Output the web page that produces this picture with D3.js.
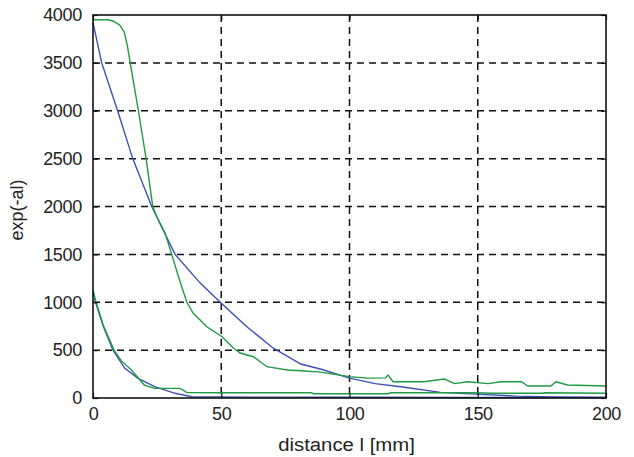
<!DOCTYPE html>
<html>
<head>
<meta charset="utf-8">
<script src="https://cdn.jsdelivr.net/npm/d3@7"></script>
<style>
  body { margin: 0; background: #fff; }
  text { font-family: "Liberation Sans", Arial, sans-serif; fill: #222; }
</style>
</head>
<body>
<div id="chart"></div>
<script>
// values
var upperBlueX = [0, 3.4, 9.6, 15.5, 22.9, 32, 41.8, 49.6, 60, 70.3, 81, 89, 100, 110, 120, 135.5, 151, 165, 180, 200];
var upperBlueY = [3920, 3500, 3000, 2500, 2000, 1500, 1200, 1000, 744, 520, 355, 300, 207, 150, 118, 59, 38, 20, 10, 5];

var upperGreenX = [0, 5.9, 8, 10.5, 12.2, 13.4, 14.5, 17.7, 20.7, 23.3, 24.9, 28.1, 30.7, 33.5, 36.6, 39, 44.4, 50.3, 54.7, 57.4, 62.5, 67.8, 75.7, 81, 88.7, 100, 107, 114, 115, 117, 129, 137, 141, 146, 154, 159, 167, 169.5, 178.5, 180.5, 185, 200];
var upperGreenY = [3950, 3950, 3935, 3894, 3820, 3680, 3500, 3000, 2500, 2000, 1890, 1720, 1500, 1250, 1000, 887, 744, 640, 522, 470, 431, 327, 292, 285, 270, 223, 208, 210, 240, 170, 170, 198, 150, 170, 150, 170, 170, 125, 125, 170, 136, 125];

var lowerBlueX = [0, 1, 4, 7.8, 12.4, 17.6, 24, 32, 38.5, 50, 100, 150, 200];
var lowerBlueY = [1100, 1000, 750, 500, 310, 205, 118, 49, 13, 10, 8, 6, 5];

var lowerGreenX = [0, 1, 4, 8.2, 11, 15, 20, 24, 34, 36.6, 50, 85, 86, 115, 116, 150, 155, 175, 176, 200];
var lowerGreenY = [1130, 1020, 760, 500, 390, 292, 135, 101, 101, 56, 55, 55, 45, 45, 55, 55, 50, 50, 55, 50];

var xTicks = [0, 50, 100, 150, 200];
var yTicks = [0, 500, 1000, 1500, 2000, 2500, 3000, 3500, 4000];

var blue = "#3d51b3",
    green = "#1f9a45";

var W = 634, H = 457;
var margin = { top: 15, right: 28, bottom: 59, left: 93 };
var width = W - margin.left - margin.right,
    height = H - margin.top - margin.bottom;

var svg = d3.select("#chart").append("svg")
    .attr("width", W)
    .attr("height", H);

var g = svg.append("g")
    .attr("transform", "translate(" + margin.left + "," + margin.top + ")");

var x = d3.scaleLinear().domain([0, 200]).range([0, width]);
var y = d3.scaleLinear().domain([0, 4000]).range([height, 0]);

// dashed grid
g.selectAll(".vgrid")
    .data(xTicks.slice(1, -1))
    .enter().append("line")
    .attr("x1", function (d) { return x(d); })
    .attr("x2", function (d) { return x(d); })
    .attr("y1", 0)
    .attr("y2", height)
    .attr("stroke", "#111")
    .attr("stroke-width", 1.5)
    .attr("stroke-dasharray", "7,5");

g.selectAll(".hgrid")
    .data(yTicks.slice(1, -1))
    .enter().append("line")
    .attr("x1", 0)
    .attr("x2", width)
    .attr("y1", function (d) { return y(d); })
    .attr("y2", function (d) { return y(d); })
    .attr("stroke", "#111")
    .attr("stroke-width", 1.5)
    .attr("stroke-dasharray", "7,5");

// curves
function series(xs, ys) {
    return xs.map(function (v, i) { return [v, ys[i]]; });
}

var line = d3.line()
    .x(function (d) { return x(d[0]); })
    .y(function (d) { return y(d[1]); });

var curves = [
    { pts: series(upperBlueX, upperBlueY), color: blue },
    { pts: series(lowerBlueX, lowerBlueY), color: blue },
    { pts: series(upperGreenX, upperGreenY), color: green },
    { pts: series(lowerGreenX, lowerGreenY), color: green }
];

g.selectAll(".curve")
    .data(curves)
    .enter().append("path")
    .attr("d", function (d) { return line(d.pts); })
    .attr("fill", "none")
    .attr("stroke", function (d) { return d.color; })
    .attr("stroke-width", 1.4);

// axes with inward ticks (matlab style)
var fmt = d3.format("d");
g.append("g")
    .attr("transform", "translate(0," + height + ")")
    .call(d3.axisBottom(x).tickValues(xTicks).tickFormat(fmt).tickSize(-5).tickPadding(9).tickSizeOuter(0));
g.append("g")
    .call(d3.axisLeft(y).tickValues(yTicks).tickFormat(fmt).tickSize(-5).tickPadding(11).tickSizeOuter(0));
g.append("g")
    .call(d3.axisTop(x).tickValues(xTicks).tickSize(-5).tickFormat("").tickSizeOuter(0));
g.append("g")
    .attr("transform", "translate(" + width + ",0)")
    .call(d3.axisRight(y).tickValues(yTicks).tickSize(-5).tickFormat("").tickSizeOuter(0));

g.selectAll(".domain").remove();
g.selectAll(".tick line").attr("stroke", "#111").attr("stroke-width", 1.2);
g.selectAll(".tick text")
    .style("font-size", "18px")
    .style("letter-spacing", "-0.3px")
    .attr("fill", "#222");

// box
g.append("rect")
    .attr("width", width)
    .attr("height", height)
    .attr("fill", "none")
    .attr("stroke", "#111")
    .attr("stroke-width", 1.6);

svg.append("text")
    .attr("transform", "translate(" + (margin.left + width / 2 - 3) + ",451) scale(1.13,1)")
    .attr("text-anchor", "middle")
    .style("font-size", "18px")
    .text("distance l [mm]");

svg.append("text")
    .attr("transform", "translate(23,210) rotate(-90)")
    .attr("text-anchor", "middle")
    .style("font-size", "18px")
    .text("exp(-al)");
</script>
</body>
</html>
